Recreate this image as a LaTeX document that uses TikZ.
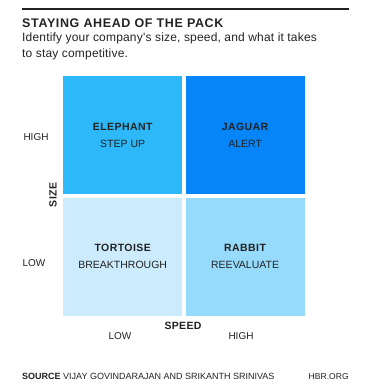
\documentclass[tikz,border=0pt]{standalone}
\usepackage{fontspec}
\setmainfont{Liberation Sans}
\usetikzlibrary{positioning}
\definecolor{ink}{HTML}{222222}
\definecolor{elephantblue}{HTML}{2CB8F9}
\definecolor{jaguarblue}{HTML}{0585F8}
\definecolor{tortoiseblue}{HTML}{CCECFD}
\definecolor{rabbitblue}{HTML}{96DBFB}
\newcommand{\spaced}[1]{\addfontfeatures{LetterSpace=#1}}
\newcommand{\quadlabel}[2]{{\bfseries\spaced{4}#1}\\#2}

\begin{document}
\begin{tikzpicture}[x=1pt, y=-1pt, text=ink,
    quadbox/.style={rectangle, inner sep=0pt, minimum width=119pt, minimum height=118pt,
                    align=center, font=\fontsize{10.5}{17}\selectfont},
    axislabel/.style={font=\fontsize{10}{12}\selectfont},
    axistitle/.style={font=\fontsize{10.5}{12}\selectfont\bfseries\spaced{3}},
    node distance=3pt]
  \useasboundingbox (0,0) rectangle (365,385);
  % header
  \draw[ink, line width=2pt] (22,9) coordinate (rulea) -- (349,9) coordinate (ruleb);
  \node[anchor=base west, inner sep=0pt, font=\fontsize{12.5}{14}\selectfont\bfseries\spaced{5}]
    (title) at (22,28) {STAYING AHEAD OF THE PACK};
  \node[anchor=base west, inner sep=0pt, font=\fontsize{12}{14}\selectfont\spaced{1.5}]
    (subtitle) at (22,42) {Identify your company's size, speed, and what it takes};
  \node[anchor=base west, inner sep=0pt, font=\fontsize{12}{14}\selectfont\spaced{1.5}]
    (subtitlerest) at (22,58) {to stay competitive.};
  % the four quadrants
  \node[quadbox, fill=elephantblue, anchor=north west] (elephant) at (63,76)
    {\quadlabel{ELEPHANT}{STEP UP}};
  \node[quadbox, fill=jaguarblue, right=of elephant] (jaguar) {\quadlabel{JAGUAR}{ALERT}};
  \node[quadbox, fill=tortoiseblue, below=of elephant] (tortoise)
    {\quadlabel{TORTOISE}{BREAKTHROUGH}};
  \node[quadbox, fill=rabbitblue, right=of tortoise] (rabbit) {\quadlabel{RABBIT}{REEVALUATE}};
  % axes
  \node[axislabel] (sizehigh) at (36,137) {HIGH};
  \node[axislabel] (sizelow) at (34,263) {LOW};
  \node[axistitle, rotate=90] (size) at (53,195) {SIZE};
  \node[axistitle] (speed) at (183,326) {SPEED};
  \node[axislabel] (speedlow) at (120,336) {LOW};
  \node[axislabel] (speedhigh) at (241,336) {HIGH};
  % footer
  \node[anchor=base west, inner sep=0pt, font=\fontsize{9}{10}\selectfont]
    (source) at (22,379) {\textbf{SOURCE} VIJAY GOVINDARAJAN AND SRIKANTH SRINIVAS};
  \node[anchor=base east, inner sep=0pt, font=\fontsize{8.6}{10}\selectfont]
    (hbr) at (349,379) {HBR.ORG};
\end{tikzpicture}
\end{document}
